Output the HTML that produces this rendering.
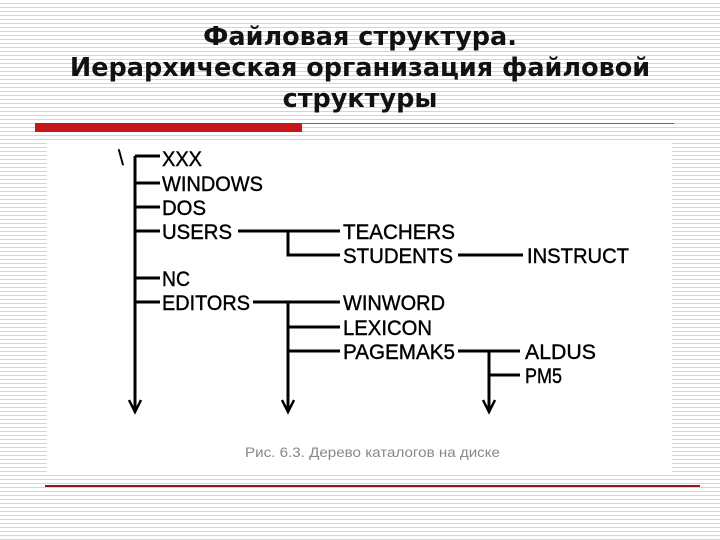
<!DOCTYPE html>
<html><head><meta charset="utf-8"><style>
body{margin:0;width:720px;height:540px;overflow:hidden;background:repeating-linear-gradient(to bottom,#fff 0,#fff 3px,#d4d4d4 3px,#d4d4d4 4px);font-family:"Liberation Sans",sans-serif;position:relative}
.t{position:absolute;left:0;width:720px;text-align:center;top:22px;font-family:"DejaVu Sans","Liberation Sans",sans-serif;font-weight:bold;font-size:25.5px;line-height:31px;color:#111}
</style></head><body>
<div class="t">Файловая структура.<br>Иерархическая организация файловой<br>структуры</div>
<div style="position:absolute;left:35px;top:123px;width:267px;height:9px;background:#c8141b"></div>
<div style="position:absolute;left:302px;top:123px;width:372px;height:1px;background:#b44"></div>
<div style="position:absolute;left:47px;top:140px;width:625px;height:332px;background:#fff"></div>
<div style="position:absolute;left:45px;top:485px;width:655px;height:2px;background:#8a1c1c"></div>
<svg style="position:absolute;left:0;top:0" width="720" height="540">
<g stroke="#000" stroke-width="3" fill="none">
<path d="M135 156V410M135 156H160M135 183H160M135 207H160M135 231H160M135 278H160M135 302H160"/>
<path d="M238 231H340M288 231V255H340M458 255H523"/>
<path d="M253 302H340M288 302V410M288 327H340M288 351H340"/>
<path d="M458 351H520M489 351V410M489 375H520"/>
<path d="M129 400L135 412L141 400M282 400L288 412L294 400M483 400L489 412L495 400" stroke-width="2.5"/>
</g>
<g font-family="Liberation Sans,sans-serif" font-size="21" fill="#000" stroke="#000" stroke-width="0.4">
<text x="118" y="165">\</text>
<text x="162" y="166" textLength="40" lengthAdjust="spacingAndGlyphs">XXX</text>
<text x="162" y="191" textLength="101" lengthAdjust="spacingAndGlyphs">WINDOWS</text>
<text x="162" y="215" textLength="44" lengthAdjust="spacingAndGlyphs">DOS</text>
<text x="162" y="239" textLength="70" lengthAdjust="spacingAndGlyphs">USERS</text>
<text x="162" y="286" textLength="28" lengthAdjust="spacingAndGlyphs">NC</text>
<text x="162" y="310" textLength="88" lengthAdjust="spacingAndGlyphs">EDITORS</text>
<text x="343" y="239" textLength="112" lengthAdjust="spacingAndGlyphs">TEACHERS</text>
<text x="343" y="263" textLength="110" lengthAdjust="spacingAndGlyphs">STUDENTS</text>
<text x="527" y="263" textLength="102" lengthAdjust="spacingAndGlyphs">INSTRUCT</text>
<text x="343" y="310" textLength="102" lengthAdjust="spacingAndGlyphs">WINWORD</text>
<text x="343" y="335" textLength="89" lengthAdjust="spacingAndGlyphs">LEXICON</text>
<text x="343" y="359" textLength="112" lengthAdjust="spacingAndGlyphs">PAGEMAK5</text>
<text x="525" y="359" textLength="71" lengthAdjust="spacingAndGlyphs">ALDUS</text>
<text x="525" y="383" textLength="37" lengthAdjust="spacingAndGlyphs">PM5</text>
</g>
<text x="245" y="457" font-family="Liberation Sans,sans-serif" font-size="14" fill="#888" textLength="255" lengthAdjust="spacingAndGlyphs">Рис. 6.3. Дерево каталогов на диске</text>
</svg>
</body></html>
